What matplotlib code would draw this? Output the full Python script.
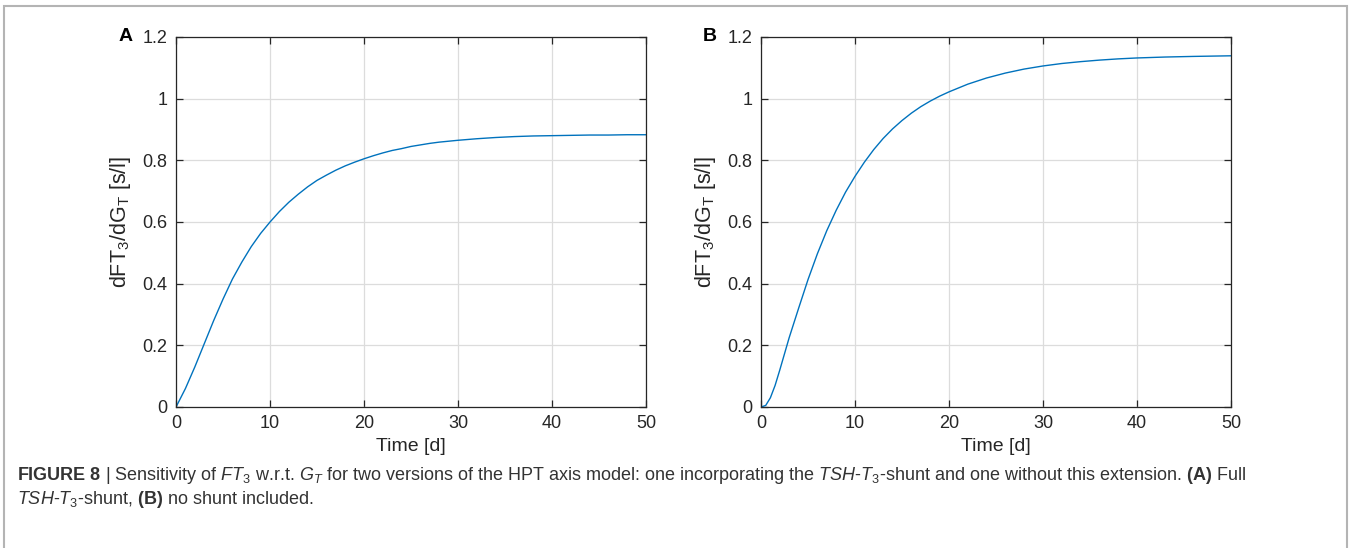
import matplotlib
matplotlib.use("Agg")
from matplotlib import pyplot as plt
from matplotlib.patches import Rectangle
from matplotlib import font_manager

# Sensitivity curves
days_a = [0, 1, 2, 3, 4, 5, 6, 7, 8, 9, 10, 11, 12, 13, 14, 15, 16, 17, 18, 19, 20,
          21, 22, 23, 24, 25, 26, 27, 28, 29, 30, 32, 34, 36, 38, 40, 42, 44, 46, 48, 50]
sens_a = [0, 0.06, 0.13, 0.205, 0.28, 0.35, 0.415, 0.47, 0.52, 0.563, 0.60, 0.634,
          0.664, 0.69, 0.714, 0.735, 0.752, 0.768, 0.782, 0.794, 0.805, 0.815, 0.824,
          0.832, 0.838, 0.845, 0.850, 0.855, 0.859, 0.862, 0.865, 0.870, 0.874, 0.877,
          0.879, 0.880, 0.881, 0.882, 0.882, 0.883, 0.883]

days_b = [0, 0.5, 1, 1.5, 2, 3, 4, 5, 6, 7, 8, 9, 10, 11, 12, 13, 14, 15, 16, 17, 18,
          19, 20, 22, 24, 26, 28, 30, 32, 34, 36, 38, 40, 43, 46, 50]
sens_b = [0, 0.005, 0.03, 0.07, 0.12, 0.225, 0.32, 0.413, 0.497, 0.572, 0.638, 0.697,
          0.748, 0.794, 0.835, 0.871, 0.902, 0.929, 0.953, 0.974, 0.992, 1.008, 1.022,
          1.047, 1.067, 1.083, 1.096, 1.106, 1.114, 1.12, 1.125, 1.129, 1.132, 1.135,
          1.137, 1.139]

x_ticks = [0, 10, 20, 30, 40, 50]
y_ticks = [0, 0.2, 0.4, 0.6, 0.8, 1.0, 1.2]
y_tick_labels = ["0", "0.2", "0.4", "0.6", "0.8", "1", "1.2"]

names = {f.name for f in font_manager.fontManager.ttflist}
narrow = "Liberation Sans Narrow" if "Liberation Sans Narrow" in names else "Liberation Sans"

plt.rcParams["font.family"] = ["Liberation Sans", "DejaVu Sans"]
plt.rcParams["mathtext.fontset"] = "custom"
plt.rcParams["mathtext.rm"] = "Liberation Sans"
plt.rcParams["mathtext.it"] = narrow + ":italic"
plt.rcParams["mathtext.bf"] = narrow + ":bold"
plt.rcParams["mathtext.sf"] = narrow

LINE = "#0072BD"
DARK = "#262626"


def draw_panel(ax, days, sens, letter):
    ax.plot(days, sens, color=LINE, lw=1.0)
    ax.set_xlim(0, 50)
    ax.set_ylim(0, 1.2)
    ax.set_xticks(x_ticks)
    ax.set_yticks(y_ticks)
    ax.set_yticklabels(y_tick_labels)
    ax.grid(True, color="#dcdcdc", lw=0.9)
    ax.set_axisbelow(True)
    ax.tick_params(direction="in", top=True, right=True, length=5, width=0.9,
                   labelsize=13, colors=DARK, pad=6)
    for s in ax.spines.values():
        s.set_color(DARK)
        s.set_linewidth(0.9)
    ax.set_xlabel("Time [d]", fontsize=14, color=DARK, labelpad=4)
    ax.set_ylabel(r"dFT$_\mathrm{3}$/dG$_\mathrm{T}$ [s/l]", fontsize=15.5,
                  color=DARK, labelpad=7)
    ax.text(-0.108, 1.0, letter, transform=ax.transAxes, fontsize=14,
            fontweight="bold", ha="center", va="center", color="black")


fig = plt.figure(figsize=(13.5, 5.48), dpi=100)
ax_a = fig.add_axes([0.1304, 0.2573, 0.3481, 0.6752])
ax_b = fig.add_axes([0.5637, 0.2573, 0.3481, 0.6752])
draw_panel(ax_a, days_a, sens_a, "A")
draw_panel(ax_b, days_b, sens_b, "B")

# grey frame round the figure
fig.patches.append(Rectangle((4 / 1350, -0.05), 1343 / 1350, 1.05 - 6 / 548,
                             transform=fig.transFigure, fill=False,
                             edgecolor="#b4b4b4", lw=1.5, clip_on=False))

line1 = (r"$\bf{FIGURE\ 8}$ | Sensitivity of $FT_3$ w.r.t. $G_T$ for two versions of the "
         r"HPT axis model: one incorporating the $TSH$-$T_3$-shunt and one without this "
         r"extension. $\bf{(A)}$ Full")
line2 = r"$TSH$-$T_3$-shunt, $\bf{(B)}$ no shunt included."
fig.text(17 / 1350, 1 - 476 / 548, line1, family=narrow, fontsize=13,
         color="#333333", va="center", ha="left")
fig.text(17 / 1350, 1 - 500 / 548, line2, family=narrow, fontsize=13,
         color="#333333", va="center", ha="left")

fig.savefig("out.png", dpi=100)
